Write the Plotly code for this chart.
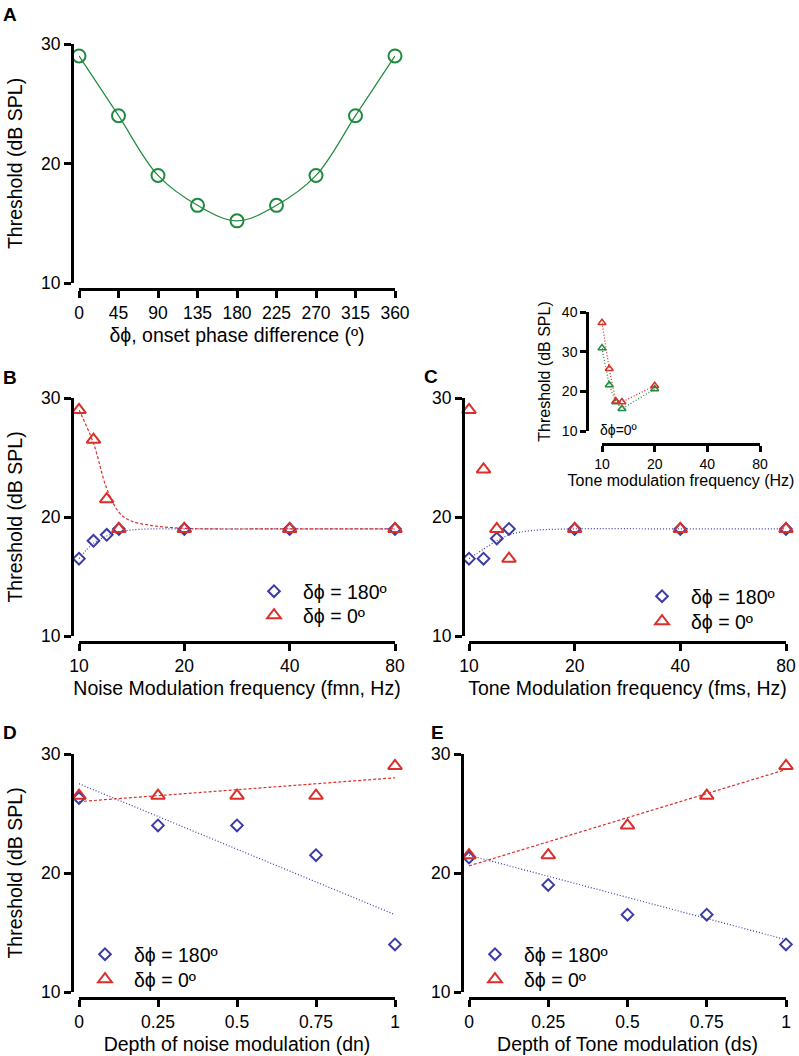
import plotly.graph_objects as go

# panel A: threshold vs onset phase difference
phase_deg = [0, 45, 90, 135, 180, 225, 270, 315, 360]
phase_thr = [29, 24, 19, 16.5, 15.2, 16.5, 19, 24, 29]

# panels B / C: modulation frequency
freq_hz = [10, 11, 12, 13, 20, 40, 80]
noise_180 = [16.5, 18, 18.5, 19, 19, 19, 19]
noise_0 = [29, 26.5, 21.5, 19, 19, 19, 19]
tone_180 = [16.5, 16.5, 18.2, 19, 19, 19, 19]
tone_0 = [29, 24, 19, 16.5, 19, 19, 19]

# fitted curves
fit_b_x = [10, 11, 12, 13, 14, 16, 20, 40, 80]
fit_b_red = [29, 26.2, 22.4, 20.4, 19.7, 19.3, 19.05, 19, 19]
fit_b_blue = [16.5, 17.8, 18.4, 18.75, 18.9, 19, 19, 19, 19]
fit_c_x = [10, 11, 12, 13, 15, 20, 40, 80]
fit_c_blue = [16.5, 17.3, 18.0, 18.5, 18.85, 19, 19, 19]

# inset: tone modulation frequency, dphi = 0
inset_freq = [10, 11, 12, 13, 20]
inset_red = [37.3, 25.7, 17.5, 17.3, 21.4]
inset_green = [30.9, 21.6, 17.3, 15.6, 20.6]

# panels D / E: modulation depth
depth = [0, 0.25, 0.5, 0.75, 1]
noise_depth_180 = [26.3, 24, 24, 21.5, 14]
noise_depth_0 = [26.5, 26.5, 26.5, 26.5, 29]
tone_depth_180 = [21.3, 19, 16.5, 16.5, 14]
tone_depth_0 = [21.5, 21.5, 24, 26.5, 29]
fit_depth_x = [0, 1]
fit_d_red = [26, 28]
fit_d_blue = [27.5, 16.5]
fit_e_red = [20.6, 28.7]
fit_e_blue = [21.5, 14.4]

GREEN = '#1f8a3d'
RED = '#d8302b'
BLUE = '#3b3ba6'
FONT = 'Liberation Sans, Arial, sans-serif'
DASH = '3px,2px'
DOT = '1px,2px'

W, H = 799, 1056


def px(x):
    return x / W


def py(y):
    return 1 - y / H


def x_axis(left, right, line_y, rng, tickvals, title, log=False, small=False):
    d = dict(
        domain=[px(left), px(right)], anchor='free', position=py(line_y),
        range=rng, tickvals=tickvals, showline=True, linecolor='black',
        linewidth=3 if not small else 2.5, ticks='outside', ticklen=7 if not small else 6,
        tickwidth=2.5, tickcolor='black', showgrid=False, zeroline=False,
        automargin=False,
        tickfont=dict(size=17.5 if not small else 14, color='black'),
        title=dict(text=title, font=dict(size=19.5 if not small else 16, color='black'),
                   standoff=6 if not small else 4),
        fixedrange=True,
    )
    if log:
        d['type'] = 'log'
    return d


def y_axis(line_x, top, bottom, rng, tickvals, title, small=False):
    return dict(
        domain=[py(bottom), py(top)], anchor='free', position=px(line_x),
        range=rng, tickvals=tickvals, showline=True, linecolor='black',
        linewidth=3 if not small else 2.5, ticks='outside', ticklen=7 if not small else 6,
        tickwidth=2.5, tickcolor='black', showgrid=False, zeroline=False,
        automargin=False,
        tickfont=dict(size=17.5 if not small else 14, color='black'),
        title=dict(text=title, font=dict(size=19.5 if not small else 16, color='black'),
                   standoff=12 if not small else 6),
        fixedrange=True,
    )


def pts(x, y, sym, color, size, xa, ya, name=None, legend=None, width=2):
    return go.Scatter(
        x=x, y=y, mode='markers', name=name, showlegend=name is not None,
        legend=legend, cliponaxis=False,
        marker=dict(symbol=sym, size=size, color=color, line=dict(color=color, width=width)),
        xaxis=xa, yaxis=ya,
    )


def curve(x, y, color, dash, xa, ya, shape='spline', width=1.2):
    return go.Scatter(
        x=x, y=y, mode='lines', showlegend=False, cliponaxis=False,
        line=dict(color=color, dash=dash, width=width, shape=shape),
        xaxis=xa, yaxis=ya,
    )


traces = [
    # A
    curve(phase_deg, phase_thr, GREEN, 'solid', 'x', 'y'),
    pts(phase_deg, phase_thr, 'circle-open', GREEN, 13, 'x', 'y'),
    # B
    curve(fit_b_x, fit_b_blue, BLUE, DOT, 'x2', 'y2'),
    curve(fit_b_x, fit_b_red, RED, DASH, 'x2', 'y2'),
    pts(freq_hz, noise_180, 'diamond-open', BLUE, 9, 'x2', 'y2', 'δϕ = 180º', 'legend'),
    pts(freq_hz, noise_0, 'triangle-up-open', RED, 12, 'x2', 'y2', 'δϕ = 0º', 'legend2'),
    # C
    curve(fit_c_x, fit_c_blue, BLUE, DOT, 'x3', 'y3'),
    pts(freq_hz, tone_180, 'diamond-open', BLUE, 9, 'x3', 'y3', 'δϕ = 180º', 'legend3'),
    pts(freq_hz, tone_0, 'triangle-up-open', RED, 12, 'x3', 'y3', 'δϕ = 0º', 'legend4'),
    # inset
    curve(inset_freq, inset_red, RED, DOT, 'x6', 'y6', shape='linear', width=1.3),
    curve(inset_freq, inset_green, GREEN, DOT, 'x6', 'y6', shape='linear', width=1.3),
    pts(inset_freq, inset_green, 'triangle-up-open', GREEN, 7, 'x6', 'y6', width=1.5),
    pts(inset_freq, inset_red, 'triangle-up-open', RED, 7, 'x6', 'y6', width=1.5),
    # D
    curve(fit_depth_x, fit_d_blue, BLUE, DOT, 'x4', 'y4', shape='linear'),
    curve(fit_depth_x, fit_d_red, RED, DASH, 'x4', 'y4', shape='linear'),
    pts(depth, noise_depth_180, 'diamond-open', BLUE, 9, 'x4', 'y4', 'δϕ = 180º', 'legend5'),
    pts(depth, noise_depth_0, 'triangle-up-open', RED, 12, 'x4', 'y4', 'δϕ = 0º', 'legend6'),
    # E
    curve(fit_depth_x, fit_e_blue, BLUE, DOT, 'x5', 'y5', shape='linear'),
    curve(fit_depth_x, fit_e_red, RED, DASH, 'x5', 'y5', shape='linear'),
    pts(depth, tone_depth_180, 'diamond-open', BLUE, 9, 'x5', 'y5', 'δϕ = 180º', 'legend7'),
    pts(depth, tone_depth_0, 'triangle-up-open', RED, 12, 'x5', 'y5', 'δϕ = 0º', 'legend8'),
]

fig = go.Figure(data=traces)

freq_ticks = [10, 20, 40, 80]
freq_range = [1, 1.90309]
depth_ticks = [0, 0.25, 0.5, 0.75, 1]


def legend_box(x, y):
    return dict(
        x=px(x), y=py(y), xanchor='left', yanchor='top',
        bgcolor='rgba(0,0,0,0)', borderwidth=0, itemwidth=48,
        font=dict(size=19.5, color='black', family=FONT),
    )


fig.update_layout(
    template='none',
    width=W, height=H,
    margin=dict(l=0, r=0, t=0, b=0, autoexpand=False),
    paper_bgcolor='white', plot_bgcolor='white',
    font=dict(family=FONT, color='black'),
    xaxis=x_axis(79, 395, 289, [0, 360], phase_deg, 'δϕ, onset phase difference (º)'),
    yaxis=y_axis(72, 44, 283, [10, 30], [10, 20, 30], 'Threshold (dB SPL)'),
    xaxis2=x_axis(79, 395, 642, freq_range, freq_ticks, 'Noise Modulation frequency (fmn, Hz)', log=True),
    yaxis2=y_axis(72, 398, 636, [10, 30], [10, 20, 30], 'Threshold (dB SPL)'),
    xaxis3=x_axis(469, 786, 642, freq_range, freq_ticks, 'Tone Modulation frequency (fms, Hz)', log=True),
    yaxis3=y_axis(463, 398, 636, [10, 30], [10, 20, 30], ''),
    xaxis4=x_axis(79, 395, 998, [0, 1], depth_ticks, 'Depth of noise modulation (dn)'),
    yaxis4=y_axis(72, 754, 992, [10, 30], [10, 20, 30], 'Threshold (dB SPL)'),
    xaxis5=x_axis(469, 786, 998, [0, 1], depth_ticks, 'Depth of Tone modulation (ds)'),
    yaxis5=y_axis(462, 754, 992, [10, 30], [10, 20, 30], ''),
    xaxis6=x_axis(602, 760, 444, freq_range, freq_ticks, 'Tone modulation frequency (Hz)', log=True, small=True),
    yaxis6=y_axis(587, 312, 431, [10, 40], [10, 20, 30, 40], 'Threshold (dB SPL)', small=True),
    legend=legend_box(245, 572),
    legend2=legend_box(245, 596),
    legend3=legend_box(633, 577),
    legend4=legend_box(633, 602),
    legend5=legend_box(76, 935),
    legend6=legend_box(76, 960),
    legend7=legend_box(466, 935),
    legend8=legend_box(466, 960),
    showlegend=True,
)

labels = [('A', 1, 15), ('B', 1, 378), ('C', 422, 377), ('D', 1, 732), ('E', 429, 732)]
for txt, lx, ly in labels:
    fig.add_annotation(text='<b>%s</b>' % txt, x=px(lx), y=py(ly), xref='paper', yref='paper',
                       xanchor='left', yanchor='middle', showarrow=False,
                       font=dict(size=19, color='black', family=FONT))

fig.add_annotation(text='δϕ=0º', x=px(618), y=py(430), xref='paper', yref='paper',
                   xanchor='center', yanchor='middle', showarrow=False,
                   font=dict(size=14, color='black', family=FONT))

# drop the default 8px body margin so the figure sits at the page corner
fig.write_html('out.html', config={'displayModeBar': False},
               post_script="document.body.style.margin='0';")
